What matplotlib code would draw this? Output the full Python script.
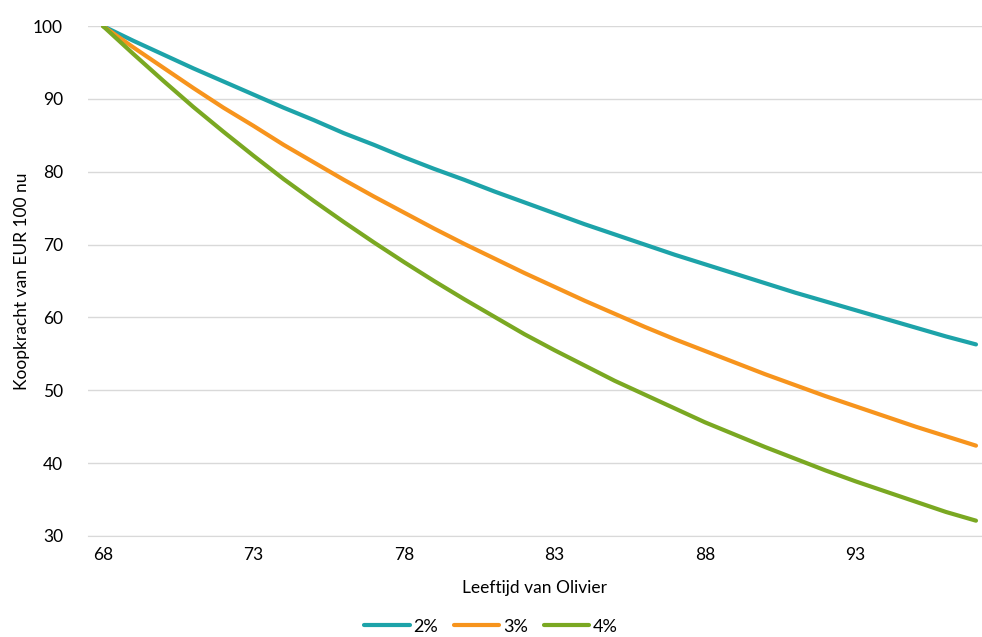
import matplotlib.pyplot as plt

plt.rcParams['font.family'] = ['Lato', 'DejaVu Sans']

ages = list(range(68, 98))
koop_2 = [100.0, 98.0, 96.1, 94.2, 92.4, 90.6, 88.8, 87.1, 85.3, 83.7,
          82.0, 80.4, 78.9, 77.3, 75.8, 74.3, 72.8, 71.4, 70.0, 68.6,
          67.3, 66.0, 64.7, 63.4, 62.2, 61.0, 59.8, 58.6, 57.4, 56.3]
koop_3 = [100.0, 97.1, 94.3, 91.5, 88.8, 86.3, 83.7, 81.3, 78.9, 76.6,
          74.4, 72.2, 70.1, 68.1, 66.1, 64.2, 62.3, 60.5, 58.7, 57.0,
          55.4, 53.8, 52.2, 50.7, 49.2, 47.8, 46.4, 45.0, 43.7, 42.4]
koop_4 = [100.0, 96.2, 92.5, 88.9, 85.5, 82.2, 79.0, 76.0, 73.1, 70.3,
          67.6, 65.0, 62.5, 60.1, 57.7, 55.5, 53.4, 51.3, 49.4, 47.5,
          45.6, 43.9, 42.2, 40.6, 39.0, 37.5, 36.1, 34.7, 33.3, 32.1]
labels = ['2%', '3%', '4%']
colors = ['#1da3a9', '#f7941d', '#7aa822']

fig = plt.figure(figsize=(9.82, 6.37), dpi=100)
ax = fig.add_axes([0.0896, 0.1586, 0.9104, 0.8004])

for ys, lab, c in zip([koop_2, koop_3, koop_4], labels, colors):
    ax.plot(ages, ys, color=c, lw=3, label=lab, solid_capstyle='round',
            solid_joinstyle='round')

ax.set_xlim(67.5, 97.2)
ax.set_ylim(30, 100)
ax.set_yticks(range(30, 101, 10))
ax.set_xticks(range(68, 97, 5))
ax.grid(axis='y', color='#d9d9d9', lw=1)
ax.set_axisbelow(True)
for s in ['top', 'right', 'left']:
    ax.spines[s].set_visible(False)
ax.spines['bottom'].set_color('#d9d9d9')
ax.tick_params(length=0, labelsize=12.5, colors='black')
ax.tick_params(axis='y', pad=18)
ax.tick_params(axis='x', pad=8)

ax.set_xlabel('Leeftijd van Olivier', fontsize=12.5, labelpad=12)
ax.set_ylabel('Koopkracht van EUR 100 nu', fontsize=12.5, labelpad=2)

fig.legend(loc='lower center', bbox_to_anchor=(0.5, -0.022), ncol=3,
           frameon=False, fontsize=13, handlelength=2.5, handletextpad=0.2,
           columnspacing=0.9)

fig.savefig('out.png', dpi=100)
